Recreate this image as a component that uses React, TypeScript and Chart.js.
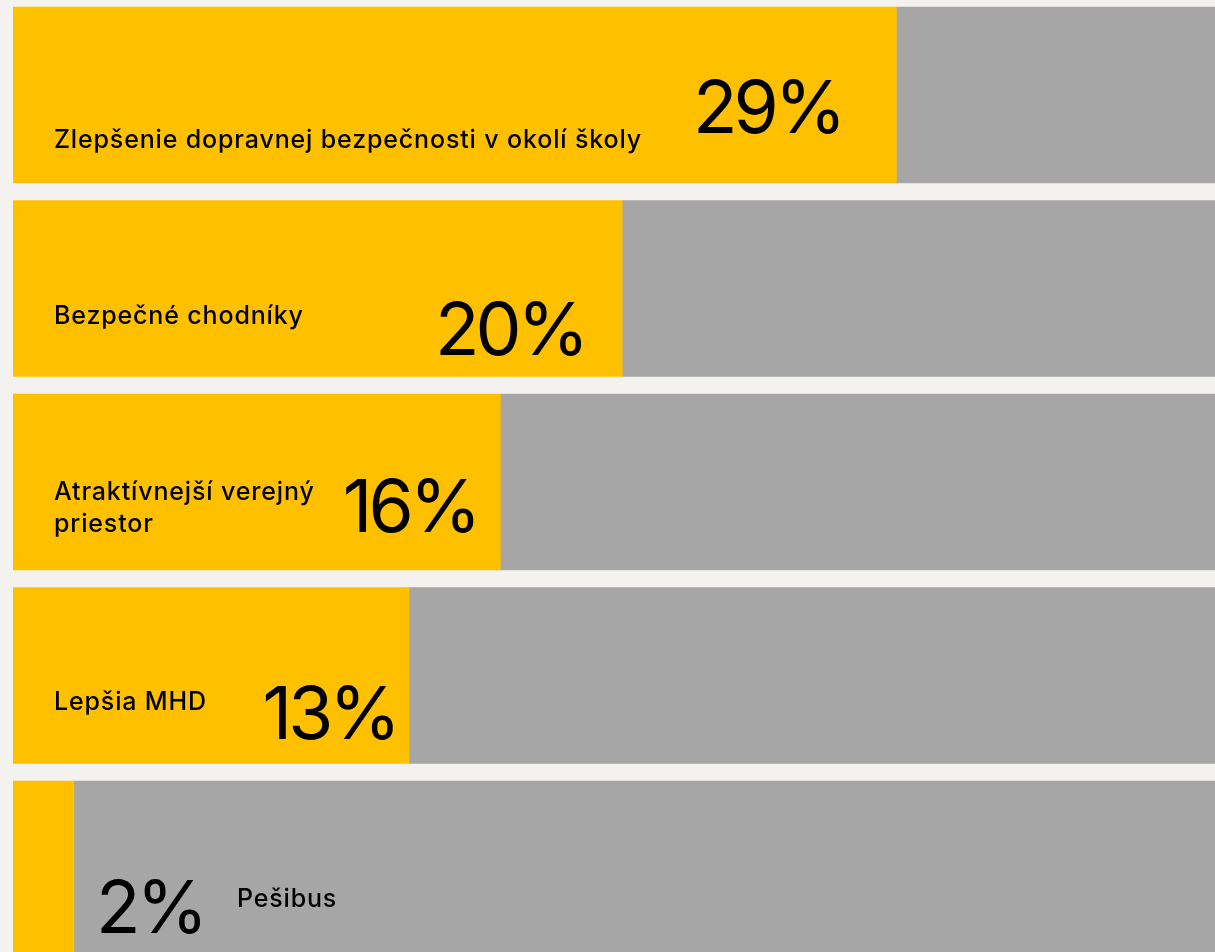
import React, { useEffect, useRef } from "react";
import { Chart, registerables } from "chart.js";

Chart.register(...registerables);

// ---- data ----
const categories: (string | string[])[] = [
  "Zlepšenie dopravnej bezpečnosti v okolí školy",
  "Bezpečné chodníky",
  ["Atraktívnejší verejný", "priestor"],
  "Lepšia MHD",
  "Pešibus",
];
const shares = [29, 20, 16, 13, 2];
const remainders = shares.map((v) => 100 - v);
const valueLabels = ["29%", "20%", "16%", "13%", "2%"];

// ---- label layout (relative to each bar) ----
const nameFrom = ["start", "start", "start", "start", "end"];
const nameOffsetX = [41, 41, 41, 41, 163];
const nameBaselineDY = [53, 35.5, 18, 34.5, 38];
const nameLineHeight = 31.7;
const pctAlign: CanvasTextAlign[] = ["right", "right", "right", "right", "left"];
const pctOffsetX = [-54, -37, -23, -12, 22];
const pctBaselineDY = [38, 66.5, 50, 63.5, 64];

const YELLOW = "#FFC000";
const GRAY = "#A6A6A6";
const BG = "#F3F2EE";

const labelPlugin = {
  id: "rowLabels",
  afterDatasetsDraw(chart: any) {
    const ctx = chart.ctx as any;
    const meta = chart.getDatasetMeta(0);
    ctx.save();
    ctx.fillStyle = "#000000";
    ctx.textBaseline = "alphabetic";
    meta.data.forEach((bar: any, i: number) => {
      const { x, y, base } = bar.getProps(["x", "y", "base"], true);
      ctx.font = "500 25px Inter";
      ctx.letterSpacing = "0.85px";
      ctx.textAlign = "left";
      const cat = categories[i];
      const lines = Array.isArray(cat) ? cat : [cat];
      const nx = (nameFrom[i] === "start" ? base : x) + nameOffsetX[i];
      lines.forEach((ln, k) => {
        ctx.fillText(ln, nx, y + nameBaselineDY[i] + k * nameLineHeight);
      });
      ctx.font = "400 73px Inter";
      ctx.letterSpacing = "-4px";
      ctx.textAlign = pctAlign[i];
      ctx.fillText(valueLabels[i], x + pctOffsetX[i], y + pctBaselineDY[i]);
    });
    ctx.restore();
  },
};

export default function App() {
  const canvasRef = useRef<HTMLCanvasElement | null>(null);

  useEffect(() => {
    if (!canvasRef.current) return;
    const chart = new Chart(canvasRef.current, {
      type: "bar",
      data: {
        datasets: [
          {
            label: "Podiel",
            data: shares.map((v, i) => ({ x: v, y: i })),
            backgroundColor: YELLOW,
            borderWidth: 0,
            barThickness: 176,
          },
          {
            label: "Zvyšok",
            data: remainders.map((v, i) => ({ x: v, y: i })),
            backgroundColor: GRAY,
            borderWidth: 0,
            barThickness: 176,
          },
        ],
      } as any,
      options: {
        indexAxis: "y",
        animation: false,
        responsive: true,
        maintainAspectRatio: false,
        devicePixelRatio: 1,
        layout: { padding: { left: 13, top: 0, right: 0, bottom: 0 } },
        plugins: {
          legend: { display: false },
          tooltip: { enabled: false },
        },
        scales: {
          x: { type: "linear", stacked: true, min: 0, max: 39.46, display: false, offset: false },
          y: {
            type: "linear",
            stacked: true,
            reverse: true,
            offset: false,
            min: -0.491,
            max: 4.429,
            display: false,
          },
        },
      } as any,
      plugins: [labelPlugin],
    });
    return () => chart.destroy();
  }, []);

  return (
    <div
      style={{
        position: "absolute",
        left: 0,
        top: 0,
        width: 1215,
        height: 952,
        background: BG,
        overflow: "hidden",
      }}
    >
      <canvas ref={canvasRef} />
    </div>
  );
}
